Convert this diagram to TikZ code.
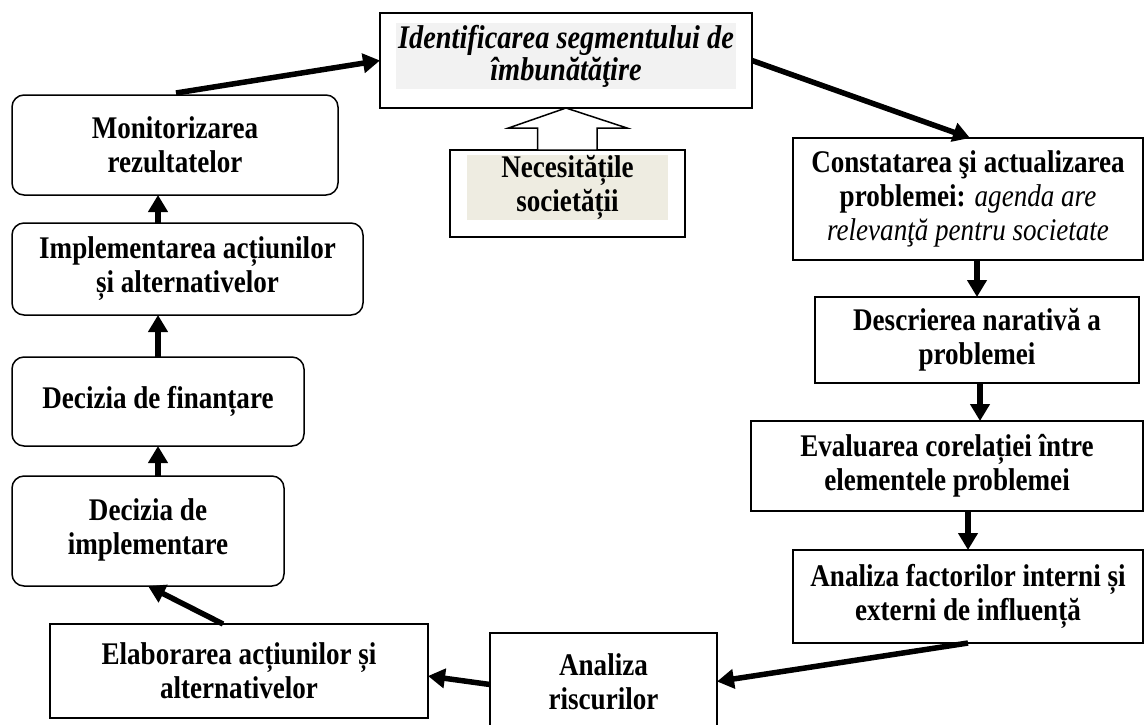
\documentclass[tikz,border=0pt]{standalone}
\usepackage{fontspec}
\setmainfont{Liberation Serif}[FakeStretch=0.86]
\usetikzlibrary{arrows.meta,calc}
\definecolor{idfill}{HTML}{F2F2F2}
\definecolor{necfill}{HTML}{EEECE1}
\begin{document}
\begin{tikzpicture}[x=1pt,y=-1pt,
  every node/.style={inner sep=0pt, outer sep=0pt},
  txt/.style={align=center, font=\fontsize{31.5}{34}\selectfont\bfseries},
  sqbox/.style={draw=black, line width=1.5pt, fill=white},
  rbox/.style={sqbox, rounded corners=12pt},
  flow/.style={line width=5.5pt, -{Triangle[length=17pt,width=19pt]}},
]
\useasboundingbox (0,0) rectangle (1145,724);

% top
\node[sqbox, minimum width=372pt, minimum height=95pt] (iden) at (566,60.5) {};
\node[fill=idfill, minimum width=340pt, minimum height=66pt, txt, font=\fontsize{33}{32}\selectfont\bfseries\itshape] (idenT) at (566,56) {Identificarea segmentului de\\îmbunătăţire};
\node[sqbox, minimum width=235pt, minimum height=87pt] (nec) at (567.5,193.5) {};
\node[fill=necfill, minimum width=201pt, minimum height=65pt, txt] (necT) at (567.5,187.5) {Necesitățile\\societății};

% hollow block arrow from nec up to iden
\draw[line width=1.5pt, fill=white, line join=miter]
  (iden.south) -- ++(61,20) -- ++(-30,0) |- ($(nec.north)+(-30,0)$) -- ++(0,-22) -- ++(-29,0) -- cycle;

% right column
\node[sqbox, minimum width=350pt, minimum height=122pt, txt] (con) at (968,199)
  {Constatarea şi actualizarea\\problemei: {\mdseries\itshape agenda are}\\{\mdseries\itshape relevanţă pentru societate}};
\node[sqbox, minimum width=324pt, minimum height=86pt, txt] (des) at (977,340) {Descrierea narativă a\\problemei};
\node[sqbox, minimum width=392pt, minimum height=90pt, txt] (eva) at (947,466) {Evaluarea corelației între\\elementele problemei};
\node[sqbox, minimum width=350pt, minimum height=93pt, txt] (anf) at (968,596.5) {Analiza factorilor interni și\\externi de influență};

% bottom
\node[sqbox, minimum width=227pt, minimum height=97pt, txt] (ris) at (603.5,681.5) {Analiza\\riscurilor};
\node[sqbox, minimum width=378pt, minimum height=94pt, txt] (ela) at (239,671) {Elaborarea acțiunilor și\\alternativelor};

% left column
\node[rbox, minimum width=272pt, minimum height=110pt, txt] (dimp) at (148,531) {\raisebox{8pt}{\begin{tabular}{@{}c@{}}Decizia de\\implementare\end{tabular}}};
\node[rbox, minimum width=292pt, minimum height=89pt, txt] (dfin) at (158,401.5) {\raisebox{8pt}{Decizia de finanțare}};
\node[rbox, minimum width=351pt, minimum height=92pt, txt] (impl) at (187.5,269) {Implementarea acțiunilor\\și alternativelor};
\node[rbox, minimum width=326pt, minimum height=100pt, txt] (mon) at (175,145) {Monitorizarea\\rezultatelor};

% connectors
\draw[flow] ($(mon.north)+(1,-2)$) -- (iden.west);
\draw[flow] (iden.east) -- ($(con.north)+(2,0)$);
\draw[flow] ($(des.north |- con.south)$) -- (des.north);
\draw[flow] ($(des.south)+(3,0)$) -- ($(des.south |- eva.north)+(3,0)$);
\draw[flow] ($(anf.north |- eva.south)$) -- (anf.north);
\draw[flow] (anf.south) -- (ris.east);
\draw[flow] ($(ris.west)+(0,3)$) -- ($(ela.east)+(0,5)$);
\draw[flow] ($(ela.north)+(-16,0)$) -- (dimp.south);
\draw[flow] ($(dfin.south |- dimp.north)$) -- (dfin.south);
\draw[flow] (dfin.north) -- (dfin.north |- impl.south);
\draw[flow] ($(impl.north)+(-29.5,0)$) -- ($(impl.north |- mon.south)+(-29.5,0)$);
\end{tikzpicture}
\end{document}
